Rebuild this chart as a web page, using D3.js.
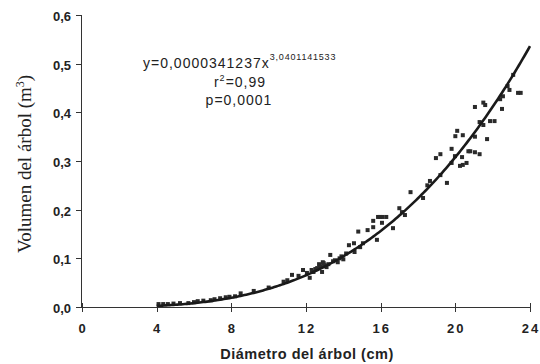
<!DOCTYPE html>
<html><head><meta charset="utf-8">
<script src="https://cdn.jsdelivr.net/npm/d3@7"></script>
<style>body{margin:0;background:#fff}svg{display:block}</style>
</head><body>
<script>
const xTicks=[0,4,8,12,16,20,24];
const yTicks=[0,0.1,0.2,0.3,0.4,0.5,0.6];
const coefA=0.0000341237, coefB=3.0401141533;
const diam=[4.1,4.35,4.6,4.9,5.25,5.7,6.0,6.2,6.5,6.9,7.1,7.4,7.7,7.9,8.2,8.5,9.2,10.0,10.8,11.0,
11.25,11.84,12.05,12.2,12.3,12.6,12.7,12.8,12.9,13.0,13.1,12.86,13.3,13.55,13.8,14.0,14.3,14.57,14.6,14.8,14.9,15.05,15.3,15.6,15.6,15.8,15.86,
15.96,16.1,16.3,16.07,16.66,17.0,17.14,17.3,17.6,18.27,18.5,18.64,19.2,19.55,18.96,19.2,19.8,19.98,20.36,20.25,20.4,20.6,20.7,20.8,21.05,21.3,19.8,
20.1,20.0,20.4,21.05,21.7,21.3,21.5,21.86,22.1,21.05,21.5,21.6,22.5,22.4,22.55,22.8,22.9,23.1,23.36,23.5,
12.5,12.75,12.95,13.2,13.45,13.7,13.9,14.15,12.4,11.6];
const vol=[0.006,0.006,0.006,0.007,0.008,0.008,0.010,0.012,0.013,0.014,0.016,0.018,0.020,0.021,0.022,0.028,0.033,0.040,0.052,0.055,
0.066,0.076,0.070,0.060,0.076,0.080,0.088,0.084,0.092,0.086,0.082,0.072,0.107,0.096,0.100,0.098,0.127,0.131,0.113,0.155,0.123,0.131,0.158,0.177,0.164,0.138,0.185,
0.185,0.185,0.185,0.173,0.162,0.203,0.195,0.189,0.236,0.224,0.250,0.259,0.271,0.255,0.306,0.314,0.296,0.310,0.308,0.290,0.292,0.296,0.320,0.320,0.318,0.314,0.325,
0.362,0.351,0.353,0.350,0.345,0.380,0.374,0.382,0.382,0.411,0.420,0.415,0.407,0.427,0.433,0.454,0.446,0.477,0.440,0.440,
0.078,0.082,0.090,0.088,0.094,0.092,0.104,0.110,0.072,0.064];

const W=540,H=364;
const FS="Liberation Sans, Arial, sans-serif";
const svg=d3.select("body").append("svg").attr("width",W).attr("height",H);
const x=d3.scaleLinear().domain([0,24]).range([82,530]);
const y=d3.scaleLinear().domain([0,0.6]).range([307,15]);
const fmt=d=>d3.format(".1f")(d).replace(".",",");

// axes lines
svg.append("line").attr("x1",81.5).attr("x2",81.5).attr("y1",y(0.6)).attr("y2",y(0)).attr("stroke","#333");
svg.append("line").attr("x1",81).attr("x2",x(24)+1).attr("y1",307.5).attr("y2",307.5).attr("stroke","#333");
yTicks.forEach(t=>{
  svg.append("line").attr("x1",76).attr("x2",81).attr("y1",Math.round(y(t))+0.5).attr("y2",Math.round(y(t))+0.5).attr("stroke","#333");
  svg.append("text").attr("x",71).attr("y",y(t)+6).attr("text-anchor","end")
    .attr("font-family",FS).attr("font-weight","bold").attr("font-size",13).attr("fill","#222").text(fmt(t));
});
xTicks.forEach(t=>{
  svg.append("line").attr("x1",Math.round(x(t))+0.5).attr("x2",Math.round(x(t))+0.5).attr("y1",303).attr("y2",312).attr("stroke","#333");
  svg.append("text").attr("x",x(t)+1).attr("y",333).attr("text-anchor","middle").attr("letter-spacing",2)
    .attr("font-family",FS).attr("font-weight","bold").attr("font-size",13).attr("fill","#222").text(t);
});

// points
svg.append("g").selectAll("rect").data(diam.map((d,i)=>[d,vol[i]])).join("rect")
  .attr("x",d=>x(d[0])-2).attr("y",d=>y(d[1])-2).attr("width",4).attr("height",4).attr("fill","#2a2a2a");

// curve
const cx=d3.range(4,24.001,0.1);
svg.append("path").datum(cx).attr("fill","none").attr("stroke","#1a1a1a").attr("stroke-width",2.6)
  .attr("d",d3.line().x(d=>x(d)).y(d=>y(coefA*Math.pow(d,coefB))));

// equation
const eq=svg.append("text").attr("x",143).attr("y",68).attr("font-family",FS).attr("font-size",14).attr("letter-spacing",1).attr("fill","#222");
eq.append("tspan").text("y=0,0000341237x");
eq.append("tspan").attr("dy",-8).attr("font-size",9).attr("letter-spacing",0.8).text("3,0401141533");
const r=svg.append("text").attr("x",240).attr("y",87).attr("text-anchor","middle").attr("font-family",FS).attr("font-size",14).attr("letter-spacing",1).attr("fill","#222");
r.append("tspan").text("r");
r.append("tspan").attr("dy",-6).attr("font-size",9).text("2");
r.append("tspan").attr("dy",6).text("=0,99");
svg.append("text").attr("x",239).attr("y",105).attr("text-anchor","middle").attr("font-family",FS).attr("font-size",14).attr("letter-spacing",1).attr("fill","#222").text("p=0,0001");

// axis titles
svg.append("text").attr("x",307).attr("y",359).attr("text-anchor","middle").attr("font-family",FS).attr("font-weight","bold").attr("font-size",14.5).attr("letter-spacing",0.5).attr("fill","#222").text("Diámetro del árbol (cm)");
const yt=svg.append("text").attr("transform","translate(31,164) rotate(-90)").attr("text-anchor","middle").attr("font-family","Liberation Serif, Times New Roman, serif").attr("font-size",19).attr("fill","#222");
yt.append("tspan").text("Volumen del árbol (m");
yt.append("tspan").attr("dy",-7).attr("font-size",12).text("3");
yt.append("tspan").attr("dy",7).text(")");
</script>
</body></html>
